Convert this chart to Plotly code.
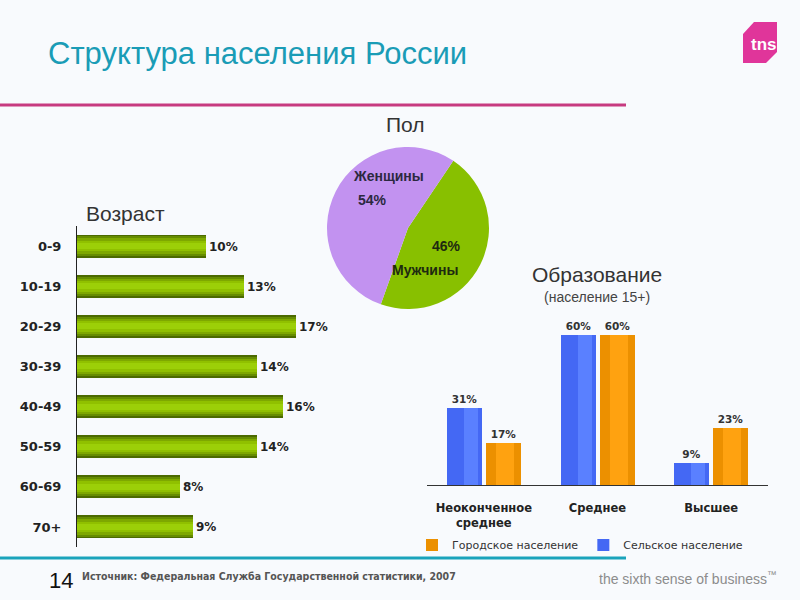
import plotly.graph_objects as go

# ---------------- data ----------------
age_groups = ["0-9", "10-19", "20-29", "30-39", "40-49", "50-59", "60-69", "70+"]
age_share = [10, 13, 17, 14, 16, 14, 8, 9]

sex_labels = ["Мужчины", "Женщины"]
sex_share = [46, 54]

edu_categories = ["Неоконченное<br>среднее", "Среднее", "Высшее"]
edu_rural = [31, 60, 9]
edu_urban = [17, 60, 23]
edu_series = ["Сельское население", "Городское население"]

W, H = 800, 600


def X(px):
    return px / W


def Y(py):
    return 1 - py / H


fig = go.Figure()

# ---------------- age bars (layered for cylinder shading) ----------------
age_layers = [(0.575, "#4c6a00"), (0.48, "#668c00"), (0.38, "#7ea800"),
              (0.27, "#90c000"), (0.15, "#9ccf08")]
for i, (wd, col) in enumerate(age_layers):
    fig.add_trace(go.Bar(
        x=age_share, y=age_groups, orientation="h", width=wd,
        marker=dict(color=col, line=dict(width=0)),
        text=[f"{v}%" for v in age_share] if i == 0 else None,
        textposition="outside" if i == 0 else "none",
        textfont=dict(family="DejaVu Sans", size=12, color="#222222", weight="bold"),
        constraintext="none", cliponaxis=False,
        showlegend=False, hoverinfo="skip", xaxis="x", yaxis="y",
    ))

# ---------------- pie ----------------
fig.add_trace(go.Pie(
    labels=sex_labels, values=sex_share, sort=False, direction="clockwise",
    rotation=34, textinfo="none", showlegend=False, hoverinfo="label+percent",
    marker=dict(colors=["#88c000", "#c292f0"], line=dict(width=0)),
    domain=dict(x=[X(327), X(489)], y=[Y(309), Y(147)]),
))

# ---------------- education bars ----------------
slot = 341 / 3.0
edu_defs = [
    (edu_series[0], edu_rural, "#4468f4", "#5a80ff", -37, -20, 14, 2),
    (edu_series[1], edu_urban, "#ec9000", "#ffa210", 2, 12, 18, 1),
]
for name, vals, base_col, light_col, off_px, loff_px, lw_px, rank in edu_defs:
    fig.add_trace(go.Bar(
        x=edu_categories, y=vals, name=name, offset=off_px / slot, width=35 / slot,
        marker=dict(color=base_col, line=dict(width=0)),
        text=[f"{v}%" for v in vals], textposition="outside",
        textfont=dict(family="DejaVu Sans", size=10.5, color="#333333", weight="bold"),
        constraintext="none", cliponaxis=False, legendrank=rank,
        xaxis="x2", yaxis="y2", hoverinfo="y+name",
    ))
    fig.add_trace(go.Bar(
        x=edu_categories, y=vals, offset=loff_px / slot, width=lw_px / slot,
        marker=dict(color=light_col, line=dict(width=0)),
        showlegend=False, hoverinfo="skip", xaxis="x2", yaxis="y2",
    ))

# ---------------- layout ----------------
SANS = "Liberation Sans, Arial, sans-serif"


def note(text, x, y, size, color, xanchor="center", family=SANS, weight="normal"):
    return dict(text=text, x=X(x), y=Y(y), xref="paper", yref="paper",
                xanchor=xanchor, yanchor="middle", showarrow=False,
                font=dict(family=family, size=size, color=color, weight=weight))


annotations = [
    note("Структура населения России", 46, 53, 31, "#1a9cb6", "left"),
    note("Возраст", 84, 213, 21, "#333333", "left"),
    note("Пол", 405, 124, 21, "#333333"),
    note("Образование", 597, 274, 21, "#333333"),
    note("(население 15+)", 597, 297, 14, "#444444"),
    # pie labels
    note(sex_labels[1], 388, 176, 14, "#2b2840", weight="bold"),
    note(f"{sex_share[1]}%", 372, 200, 14, "#2b2840", weight="bold"),
    note(f"{sex_share[0]}%", 446, 246, 14, "#1e2a10", weight="bold"),
    note(sex_labels[0], 425, 270, 14, "#1e2a10", weight="bold"),
    # tns logo text
    note("tns", 764, 44, 17, "white", weight="bold"),
    # footer
    note("14", 47, 580, 22, "#111111", "left"),
    note("Источник: Федеральная Служба Государственной статистики, 2007", 80, 576, 10.5, "#555555",
         "left", family="Liberation Sans Narrow, DejaVu Sans Condensed, sans-serif", weight="bold"),
    note("the sixth sense of business<sup>™</sup>", 779, 578, 14, "#8c8c8c", "right"),
]

shapes = [
    dict(type="line", x0=X(0), x1=X(626), y0=Y(105), y1=Y(105), xref="paper", yref="paper",
         line=dict(color="#c73a80", width=3)),
    dict(type="line", x0=X(0), x1=X(626), y0=Y(558), y1=Y(558), xref="paper", yref="paper",
         line=dict(color="#1aa3bb", width=3)),
    dict(type="path", xref="paper", yref="paper",
         path=f"M {X(743)},{Y(34)} L {X(754)},{Y(22)} L {X(777)},{Y(22)} L {X(777)},{Y(52)} "
              f"L {X(766)},{Y(63)} L {X(743)},{Y(63)} Z",
         fillcolor="#e0359a", line=dict(width=0), layer="below"),
]

fig.update_layout(
    width=W, height=H, margin=dict(l=0, r=0, t=0, b=0),
    paper_bgcolor="#f8fafd", plot_bgcolor="rgba(0,0,0,0)",
    barmode="overlay", bargap=0,
    xaxis=dict(domain=[X(77), X(347)], range=[0, 21], visible=False, fixedrange=True),
    yaxis=dict(domain=[Y(547), Y(226)], type="category", autorange="reversed",
               showline=True, linecolor="#222222", linewidth=1, ticks="", showgrid=False,
               ticklabelstandoff=12,
               tickfont=dict(family="DejaVu Sans", size=13, color="#222222", weight="bold")),
    xaxis2=dict(domain=[X(427), X(768)], anchor="y2", type="category", showline=True,
                linecolor="#333333", linewidth=1, ticks="", showgrid=False, ticklabelstandoff=12,
                tickfont=dict(family="DejaVu Sans", size=11.5, color="#222222", weight="bold")),
    yaxis2=dict(domain=[Y(485), Y(310)], anchor="x2", range=[0, 70], visible=False),
    legend=dict(orientation="h", x=X(412), y=Y(545), xanchor="left", yanchor="middle",
                font=dict(family="DejaVu Sans", size=11, color="#333333"),
                bgcolor="rgba(0,0,0,0)", itemwidth=30, tracegroupgap=0),
    annotations=annotations, shapes=shapes,
)

fig.write_html("out.html", config={"displayModeBar": False},
               post_script="document.body.style.margin='0';document.body.style.overflow='hidden';")
